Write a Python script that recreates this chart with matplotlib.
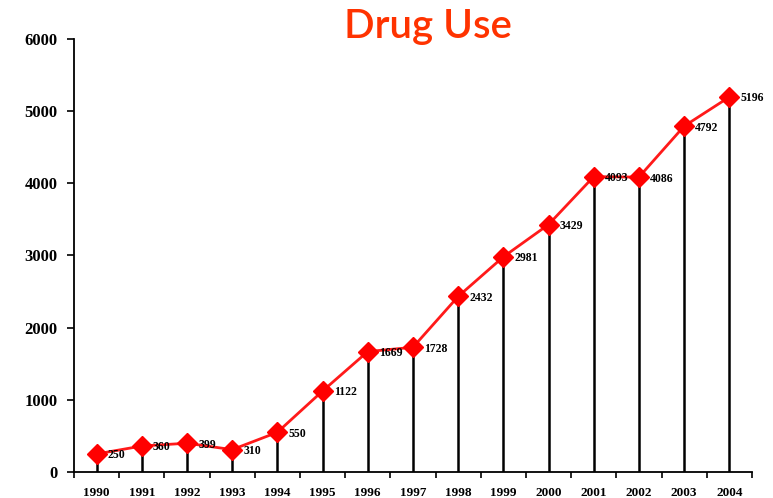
import matplotlib
matplotlib.use("Agg")
import matplotlib.pyplot as plt
import numpy as np

years = ["1990", "1991", "1992", "1993", "1994", "1995", "1996", "1997",
         "1998", "1999", "2000", "2001", "2002", "2003", "2004"]
values = [250, 360, 399, 310, 550, 1122, 1669, 1728, 2432, 2981, 3429,
          4093, 4086, 4792, 5196]
yticks = [0, 1000, 2000, 3000, 4000, 5000, 6000]

fig = plt.figure(figsize=(7.73, 4.98), dpi=100)
ax = fig.add_axes([0.0957, 0.0522, 0.877, 0.8695])
x = np.arange(len(years))

ax.vlines(x, 0, values, color="black", lw=1.8, zorder=1)
ax.plot(x, values, color="#ff1a1a", lw=2, marker="D", markersize=10,
        markerfacecolor="#ff0000", markeredgecolor="#ff0000", zorder=3)
for xi, v in zip(x, values):
    ax.annotate(str(v), (xi, v), xytext=(8, -1), textcoords="offset points",
                fontsize=8.5, fontweight="bold", family="Liberation Serif",
                va="center", ha="left", zorder=4)

ax.set_xlim(-0.5, len(years) - 0.5)
ax.set_ylim(0, 6000)
ax.set_yticks(yticks)
ax.set_yticklabels([str(t) for t in yticks], fontsize=12, fontweight="bold",
                   family="Liberation Serif")
ax.set_xticks(np.arange(len(years) + 1) - 0.5)
ax.set_xticklabels([])
ax.set_xticks(x, minor=True)
ax.set_xticklabels(years, minor=True, fontsize=9.5, fontweight="bold",
                   family="Liberation Serif")
ax.tick_params(axis="x", which="minor", length=0, pad=11)
ax.tick_params(axis="x", which="major", direction="out", length=4, width=1.2)
ax.tick_params(axis="y", direction="out", length=5, width=1.2, pad=7)
for s in ["top", "right"]:
    ax.spines[s].set_visible(False)
ax.spines["left"].set_linewidth(1.3)
ax.spines["bottom"].set_linewidth(1.3)

fig.text(0.554, 0.924, "Drug Use", color="#ff3300", fontsize=29,
         family="Lato", fontweight="semibold", ha="center", va="baseline")

fig.savefig("out.png", dpi=100)
